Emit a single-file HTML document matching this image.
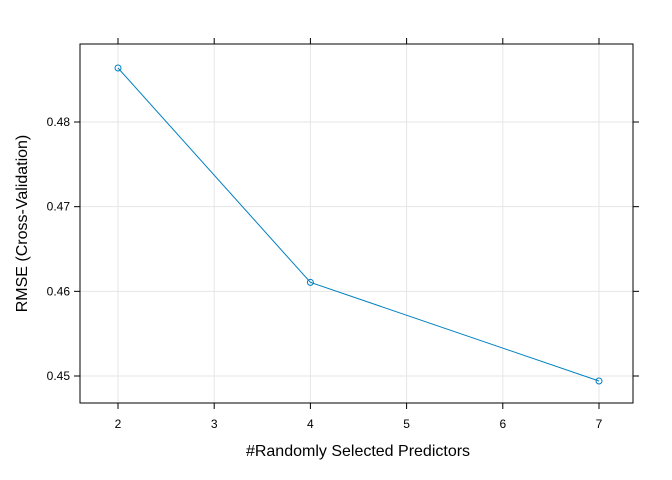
<!DOCTYPE html>
<html><head><meta charset="utf-8"><style>body{margin:0;background:#fff}svg{display:block}</style></head>
<body>
<svg id="chart" width="672" height="480" xmlns="http://www.w3.org/2000/svg" font-family="Liberation Sans, sans-serif"></svg>
<script>
const predictors = [2, 4, 7];
const rmse = [0.48638, 0.46106, 0.44941];
const xTicks = [2, 3, 4, 5, 6, 7];
const yTicks = [0.45, 0.46, 0.47, 0.48];
const yTickLabels = ["0.45", "0.46", "0.47", "0.48"];

const svg = document.getElementById('chart');
const NS = 'http://www.w3.org/2000/svg';
const L = 80, R = 633, T = 44, B = 403;
const xs = v => 118 + (v - 2) * (599 - 118) / 5;
const ys = v => 376 - (v - 0.45) * (376 - 122) / 0.03;
function mk(tag, attrs, parent) {
  const e = document.createElementNS(NS, tag);
  for (const k in attrs) e.setAttribute(k, attrs[k]);
  (parent || svg).appendChild(e);
  return e;
}
const grid = mk('g', {});


xTicks.forEach(t => mk('line', {x1: xs(t), x2: xs(t), y1: T, y2: B, stroke: '#e6e6e6', 'stroke-width': 1}, grid));
yTicks.forEach(t => mk('line', {x1: L, x2: R, y1: ys(t), y2: ys(t), stroke: '#e6e6e6', 'stroke-width': 1}, grid));

const frame = mk('rect', {x: L, y: T, width: R - L, height: B - T, fill: 'none', stroke: '#000', 'stroke-width': 1});



const xAxis = mk('g', {});


xTicks.forEach(t => {
  mk('line', {x1: xs(t), x2: xs(t), y1: B, y2: B + 6, stroke: '#000'}, xAxis);
  mk('line', {x1: xs(t), x2: xs(t), y1: T, y2: T - 6, stroke: '#000'}, xAxis);
  const tx = mk('text', {x: xs(t), y: B + 25, 'font-size': 12, 'text-anchor': 'middle'}, xAxis);
  tx.textContent = t;
});
const yAxis = mk('g', {});


yTicks.forEach((t, i) => {
  mk('line', {x1: L, x2: L - 6, y1: ys(t), y2: ys(t), stroke: '#000'}, yAxis);
  mk('line', {x1: R, x2: R + 6, y1: ys(t), y2: ys(t), stroke: '#000'}, yAxis);
  const tx = mk('text', {x: L - 10, y: ys(t) + 4, 'font-size': 12, 'text-anchor': 'end'}, yAxis);
  tx.textContent = yTickLabels[i];
});
const xt = mk('text', {x: 358, y: 456, 'font-size': 16, 'text-anchor': 'middle'});
xt.textContent = '#Randomly Selected Predictors';


const yt = mk('text', {x: 0, y: 0, 'font-size': 16, 'text-anchor': 'middle', transform: `translate(27,${(T + B) / 2}) rotate(-90)`});
yt.textContent = 'RMSE (Cross-Validation)';



const line = mk('polyline', {points: predictors.map((p, i) => xs(p) + ',' + ys(rmse[i])).join(' '), fill: 'none', stroke: '#0080c0', 'stroke-width': 1});


predictors.forEach((p, i) => {
  const c = mk('circle', {cx: xs(p), cy: ys(rmse[i]), r: 3, fill: 'none', stroke: '#0080c0', 'stroke-width': 1});
  
  
});
</script>
</body></html>
